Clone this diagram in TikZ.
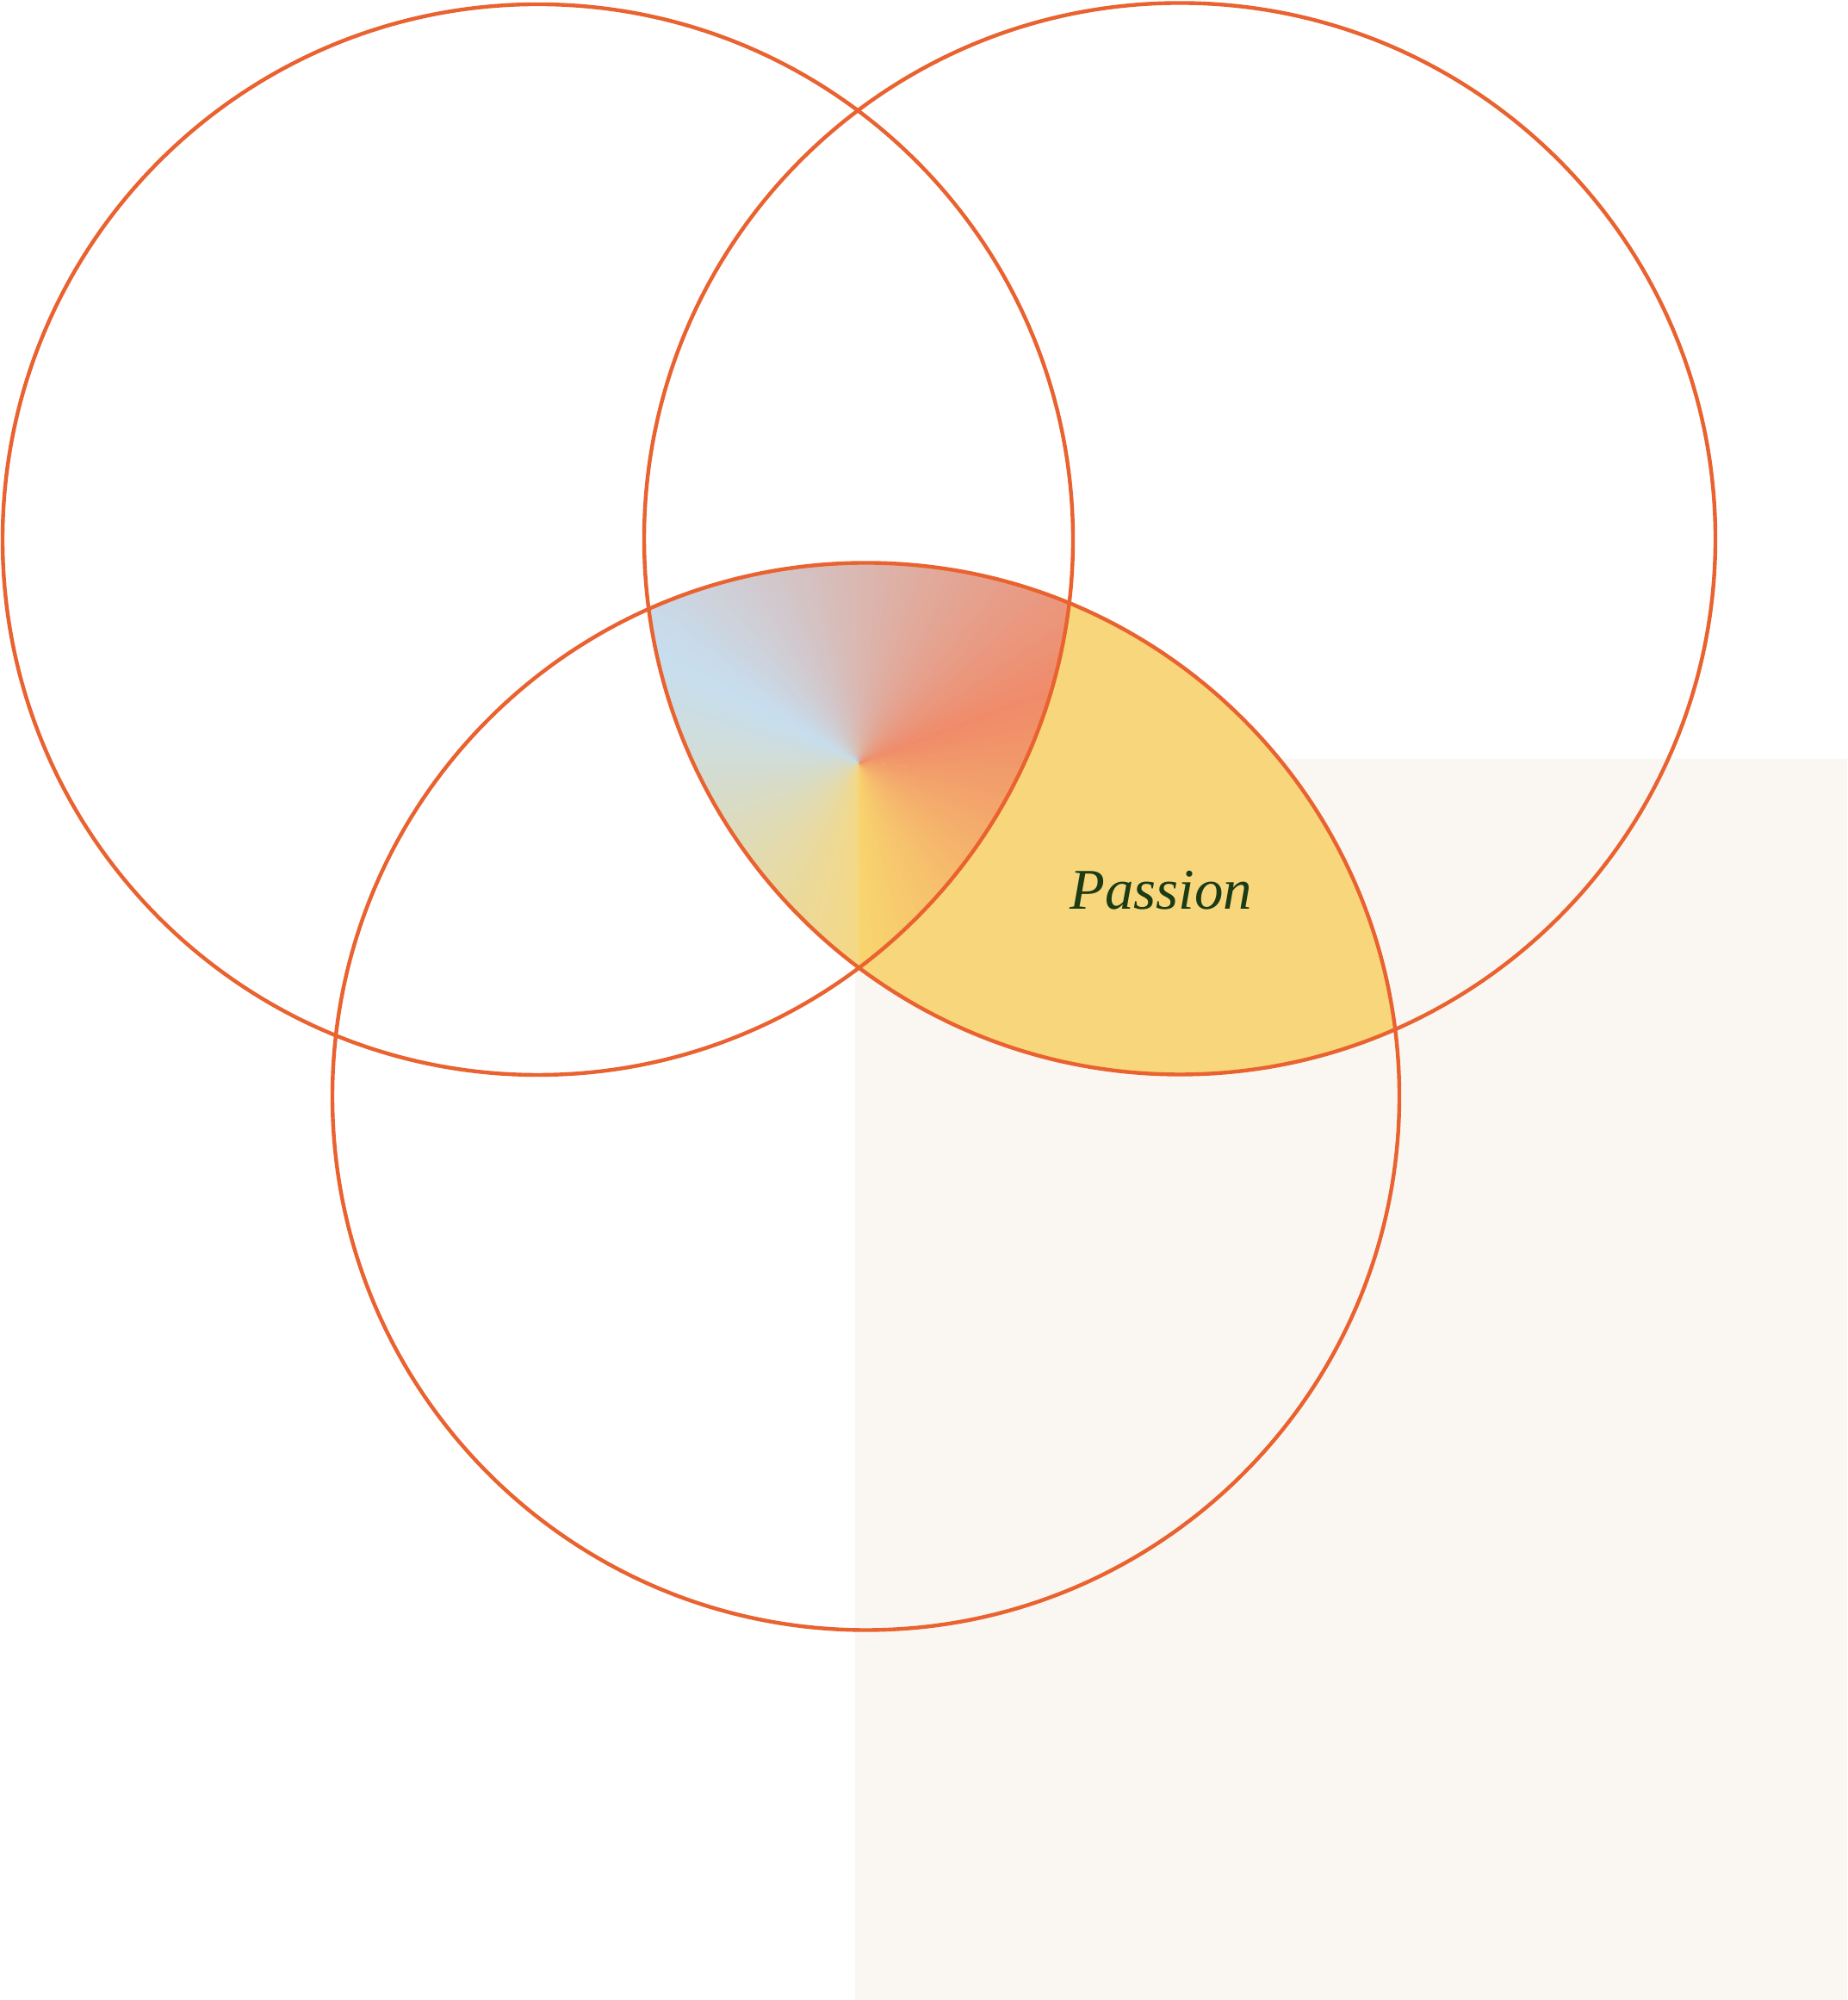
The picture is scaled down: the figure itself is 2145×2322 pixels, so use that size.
\documentclass[tikz,border=0pt]{standalone}
\usepackage{fontspec}
\newfontfamily\passfont{Liberation Serif}
\definecolor{ring}{HTML}{E9622F}
\definecolor{bgrect}{HTML}{FAF7F2}
\definecolor{passionyellow}{HTML}{F8D67C}
\definecolor{txtgreen}{HTML}{1B3B14}
\definecolor{gYa}{HTML}{F8D56E}
\definecolor{gS}{HTML}{F08B6A}
\definecolor{gB}{HTML}{C7DEEF}
\definecolor{gYb}{HTML}{F4D886}
\tikzset{
  ringline/.style={draw=ring, line width=1.25pt},
  label/.style={font=\passfont\itshape\fontsize{19}{23}\selectfont, text=txtgreen, inner sep=0pt}
}
\begin{document}
\begin{tikzpicture}[x=0.01cm,y=0.01cm]
\useasboundingbox (0,0) rectangle (2145,2322);
\fill[white] (0,0) rectangle (2145,2322);
\fill[bgrect] (993,0) rectangle (2145,1441);
\coordinate (L) at (624.5,1695.5);
\coordinate (R) at (1370,1696.5);
\coordinate (B) at (1005.5,1049);
\coordinate (G) at (997,1436);
% yellow: right and bottom circle
\begin{scope}
  \clip (R) circle[radius=622];
  \clip (B) circle[radius=619.5];
  \fill[passionyellow] (0,0) rectangle (2145,2322);
\end{scope}
% conic gradient in the triple intersection
\begin{scope}
  \clip (L) circle[radius=621.5];
  \clip (R) circle[radius=622];
  \clip (B) circle[radius=619.5];
  \foreach \i in {0,...,109} {
    \pgfmathtruncatemacro\p{round(\i/110*100)}
    \pgfmathsetmacro\aa{-90+\i}
    \pgfmathsetmacro\ab{-90+\i+1.4}
    \fill[gS!\p!gYa] (G) -- +(\aa:700) -- +(\ab:700) -- cycle;
  }
  \foreach \i in {0,...,129} {
    \pgfmathtruncatemacro\p{round(\i/130*100)}
    \pgfmathsetmacro\aa{20+\i}
    \pgfmathsetmacro\ab{20+\i+1.4}
    \fill[gB!\p!gS] (G) -- +(\aa:700) -- +(\ab:700) -- cycle;
  }
  \foreach \i in {0,...,119} {
    \pgfmathtruncatemacro\p{round(\i/120*100)}
    \pgfmathsetmacro\aa{150+\i}
    \pgfmathsetmacro\ab{150+\i+1.4}
    \ifnum\i=119 \pgfmathsetmacro\ab{270}\fi
    \fill[gYb!\p!gB] (G) -- +(\aa:700) -- +(\ab:700) -- cycle;
  }
\end{scope}
% circles
\draw[ringline] (L) circle[radius=621.5];
\draw[ringline] (R) circle[radius=622];
\draw[ringline] (B) circle[radius=619.5];
\node[label] (passion) at (1348,1288) {Passion};
\end{tikzpicture}
\end{document}
